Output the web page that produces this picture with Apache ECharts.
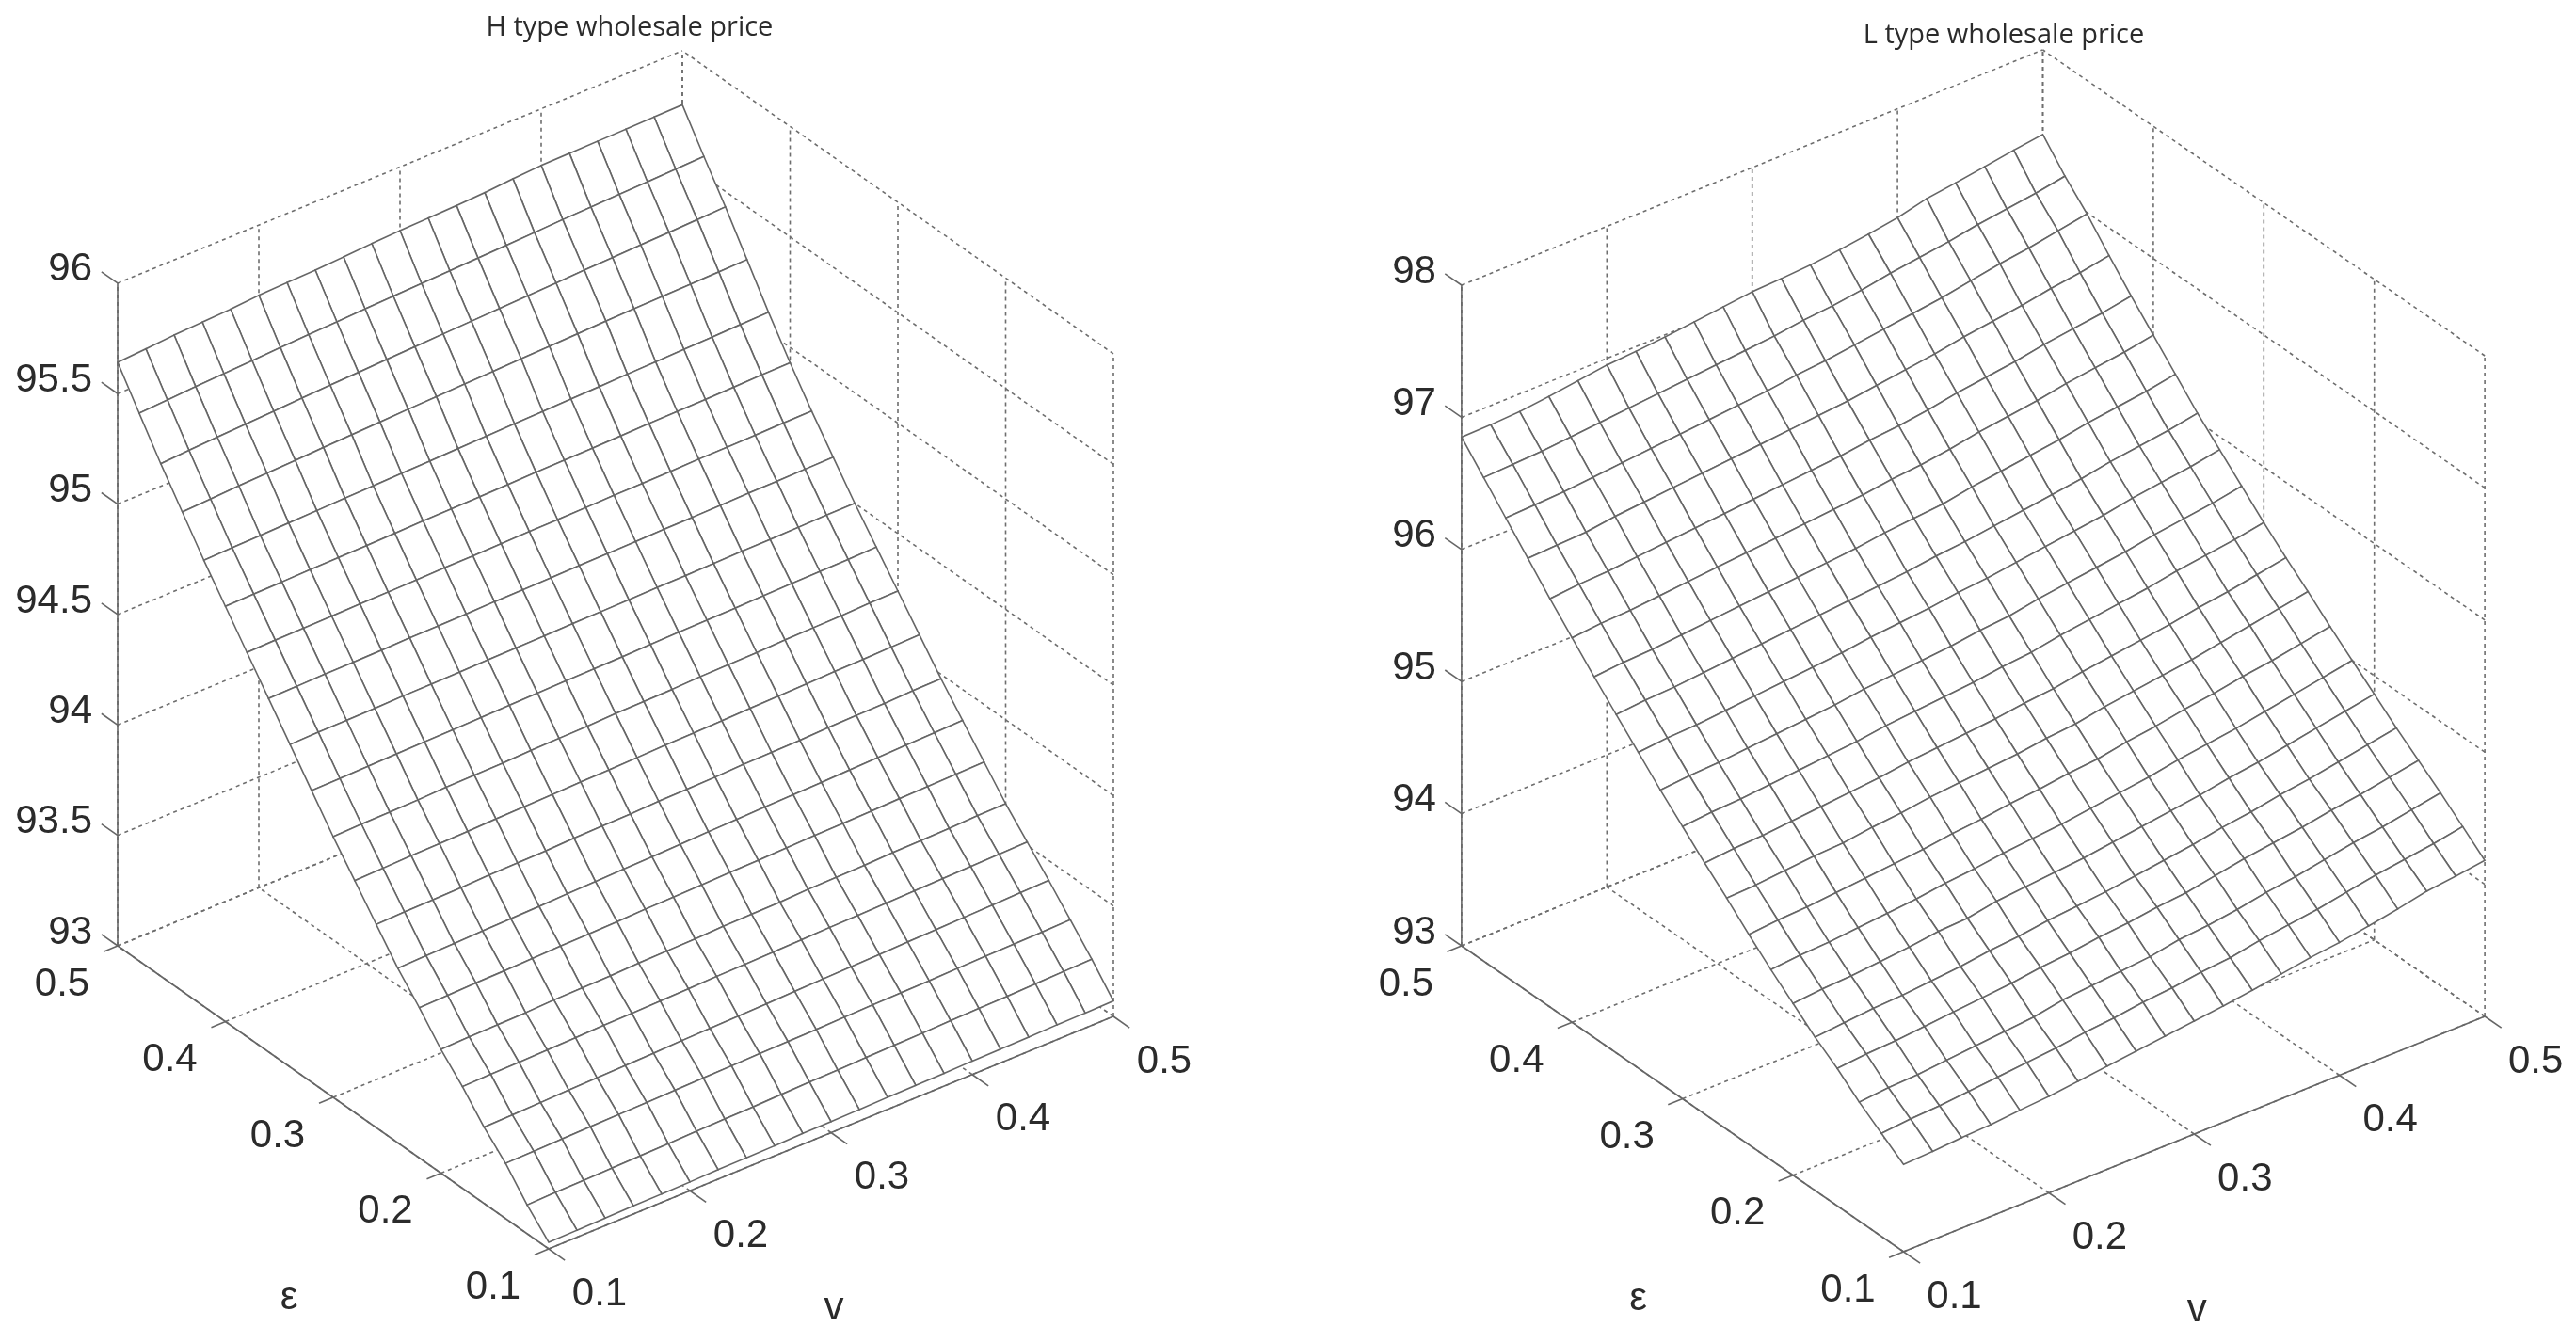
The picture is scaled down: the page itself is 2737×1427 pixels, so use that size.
<!DOCTYPE html>
<html>
<head>
<meta charset="utf-8">
<title>Wholesale price surfaces</title>
<style>
html, body { margin: 0; padding: 0; background: #fff; }
#chart { width: 2737px; height: 1427px; }
</style>
<script src="https://cdn.jsdelivr.net/npm/echarts@6/dist/echarts.min.js"></script>
</head>
<body>
<div id="chart"></div>
<script>
// mesh positions along both floor axes
var gridV = [0.10,0.12,0.14,0.16,0.18,0.20,0.22,0.24,0.26,0.28,0.30,0.32,0.34,0.36,0.38,0.40,0.42,0.44,0.46,0.48,0.50];
var gridEps = [0.10,0.12,0.14,0.16,0.18,0.20,0.22,0.24,0.26,0.28,0.30,0.32,0.34,0.36,0.38,0.40,0.42,0.44,0.46,0.48,0.50];

var vTicks = [0.1,0.2,0.3,0.4,0.5];
var epsTicks = [0.1,0.2,0.3,0.4,0.5];
var zTicksH = [93,93.5,94,94.5,95,95.5,96];
var zTicksL = [93,94,95,96,97,98];

// rows go eps=0.1 -> eps=0.5, columns v=0.1 -> v=0.5
var zH = [
  [93.030,93.032,93.034,93.037,93.038,93.040,93.043,93.044,93.046,93.049,93.050,93.052,93.055,93.056,93.058,93.061,93.062,93.064,93.067,93.068,93.070],
  [93.130,93.134,93.136,93.139,93.142,93.144,93.148,93.151,93.153,93.157,93.160,93.162,93.166,93.169,93.171,93.175,93.178,93.180,93.184,93.187,93.190],
  [93.250,93.252,93.255,93.258,93.260,93.262,93.265,93.268,93.270,93.273,93.275,93.277,93.280,93.283,93.285,93.287,93.290,93.293,93.295,93.297,93.300],
  [93.345,93.348,93.351,93.355,93.358,93.361,93.364,93.368,93.371,93.374,93.377,93.381,93.384,93.387,93.390,93.394,93.397,93.400,93.403,93.407,93.410],
  [93.460,93.463,93.465,93.468,93.471,93.474,93.476,93.479,93.482,93.485,93.487,93.490,93.493,93.496,93.498,93.501,93.504,93.507,93.509,93.512,93.515],
  [93.560,93.564,93.566,93.568,93.573,93.575,93.577,93.582,93.584,93.586,93.591,93.593,93.595,93.600,93.602,93.604,93.609,93.611,93.613,93.618,93.620],
  [93.680,93.683,93.687,93.689,93.692,93.696,93.698,93.701,93.705,93.707,93.710,93.714,93.716,93.719,93.723,93.725,93.728,93.732,93.734,93.737,93.740],
  [93.790,93.794,93.797,93.801,93.804,93.807,93.811,93.814,93.818,93.821,93.825,93.829,93.832,93.836,93.839,93.842,93.846,93.849,93.853,93.856,93.860],
  [93.920,93.924,93.926,93.928,93.933,93.935,93.937,93.942,93.944,93.946,93.951,93.953,93.955,93.960,93.962,93.964,93.969,93.971,93.973,93.978,93.980],
  [94.050,94.053,94.057,94.059,94.062,94.066,94.068,94.071,94.075,94.077,94.080,94.084,94.086,94.089,94.093,94.095,94.098,94.102,94.104,94.107,94.110],
  [94.180,94.184,94.186,94.188,94.193,94.195,94.197,94.202,94.204,94.206,94.211,94.213,94.215,94.220,94.222,94.224,94.229,94.231,94.233,94.238,94.240],
  [94.320,94.322,94.325,94.328,94.330,94.332,94.335,94.338,94.340,94.343,94.345,94.347,94.350,94.353,94.355,94.357,94.360,94.363,94.365,94.367,94.370],
  [94.460,94.463,94.464,94.466,94.469,94.470,94.472,94.475,94.476,94.478,94.481,94.482,94.484,94.487,94.488,94.490,94.493,94.494,94.496,94.499,94.500],
  [94.600,94.602,94.605,94.606,94.608,94.611,94.612,94.614,94.617,94.618,94.620,94.623,94.624,94.626,94.629,94.630,94.632,94.635,94.636,94.638,94.640],
  [94.740,94.743,94.744,94.746,94.749,94.750,94.752,94.755,94.756,94.758,94.761,94.762,94.764,94.767,94.768,94.770,94.773,94.774,94.776,94.779,94.780],
  [94.880,94.883,94.885,94.888,94.890,94.892,94.895,94.898,94.900,94.902,94.905,94.908,94.910,94.912,94.915,94.918,94.920,94.922,94.925,94.928,94.930],
  [95.020,95.024,95.027,95.031,95.034,95.038,95.041,95.045,95.048,95.052,95.055,95.059,95.062,95.066,95.069,95.073,95.076,95.080,95.083,95.087,95.090],
  [95.170,95.176,95.183,95.188,95.193,95.199,95.204,95.209,95.214,95.218,95.223,95.227,95.232,95.236,95.240,95.245,95.248,95.251,95.254,95.257,95.260],
  [95.320,95.328,95.335,95.341,95.347,95.354,95.360,95.365,95.371,95.376,95.381,95.386,95.391,95.396,95.401,95.407,95.411,95.416,95.420,95.425,95.430],
  [95.480,95.487,95.495,95.501,95.507,95.514,95.520,95.525,95.531,95.536,95.541,95.546,95.551,95.556,95.561,95.567,95.571,95.576,95.580,95.585,95.590],
  [95.642,95.650,95.660,95.666,95.672,95.682,95.687,95.691,95.698,95.706,95.712,95.716,95.720,95.726,95.736,95.744,95.746,95.748,95.750,95.753,95.755]
];

var zL = [
  [93.660,93.670,93.685,93.695,93.715,93.730,93.755,93.780,93.805,93.830,93.855,93.880,93.910,93.945,93.980,94.005,94.040,94.080,94.125,94.150,94.180],
  [93.78,93.80,93.81,93.83,93.85,93.87,93.89,93.92,93.94,93.97,93.99,94.02,94.04,94.08,94.11,94.14,94.18,94.22,94.25,94.28,94.32],
  [93.90,93.92,93.93,93.95,93.97,93.99,94.01,94.05,94.07,94.09,94.11,94.15,94.17,94.20,94.24,94.27,94.31,94.35,94.38,94.42,94.46],
  [94.04,94.06,94.07,94.09,94.11,94.13,94.15,94.18,94.20,94.23,94.25,94.28,94.30,94.34,94.38,94.41,94.44,94.48,94.51,94.55,94.59],
  [94.16,94.18,94.20,94.21,94.23,94.25,94.28,94.30,94.33,94.35,94.37,94.40,94.43,94.46,94.50,94.53,94.57,94.60,94.64,94.68,94.72],
  [94.30,94.32,94.33,94.35,94.37,94.40,94.41,94.45,94.47,94.49,94.51,94.54,94.57,94.60,94.63,94.67,94.70,94.74,94.78,94.82,94.86],
  [94.44,94.46,94.47,94.49,94.51,94.53,94.56,94.58,94.61,94.63,94.65,94.68,94.71,94.74,94.78,94.81,94.84,94.88,94.92,94.96,95.00],
  [94.59,94.61,94.62,94.64,94.66,94.68,94.70,94.73,94.75,94.78,94.80,94.83,94.85,94.89,94.92,94.96,94.99,95.03,95.06,95.10,95.14],
  [94.75,94.76,94.78,94.80,94.81,94.84,94.86,94.89,94.91,94.93,94.95,94.98,95.00,95.04,95.07,95.10,95.13,95.17,95.21,95.25,95.29],
  [94.90,94.92,94.93,94.95,94.97,94.99,95.01,95.04,95.06,95.08,95.10,95.13,95.15,95.19,95.22,95.25,95.28,95.32,95.35,95.39,95.43],
  [95.06,95.08,95.09,95.11,95.13,95.15,95.17,95.20,95.22,95.24,95.26,95.29,95.31,95.35,95.38,95.41,95.44,95.48,95.51,95.54,95.58],
  [95.22,95.24,95.25,95.27,95.29,95.31,95.33,95.36,95.38,95.40,95.42,95.45,95.47,95.51,95.54,95.57,95.60,95.64,95.67,95.70,95.74],
  [95.39,95.41,95.42,95.44,95.46,95.48,95.50,95.52,95.55,95.57,95.59,95.62,95.64,95.67,95.70,95.73,95.76,95.80,95.83,95.86,95.90],
  [95.56,95.58,95.59,95.61,95.63,95.65,95.67,95.69,95.71,95.73,95.75,95.78,95.80,95.83,95.86,95.89,95.92,95.96,95.99,96.02,96.06],
  [95.73,95.75,95.76,95.78,95.80,95.82,95.84,95.86,95.88,95.90,95.93,95.95,95.97,96.01,96.04,96.07,96.10,96.14,96.17,96.20,96.24],
  [95.91,95.93,95.94,95.96,95.98,96.00,96.02,96.04,96.06,96.08,96.10,96.13,96.15,96.18,96.22,96.25,96.28,96.32,96.35,96.38,96.42],
  [96.09,96.11,96.12,96.14,96.16,96.18,96.20,96.22,96.24,96.26,96.28,96.31,96.33,96.36,96.40,96.43,96.46,96.50,96.53,96.56,96.60],
  [96.28,96.29,96.30,96.33,96.35,96.37,96.39,96.41,96.43,96.45,96.47,96.49,96.52,96.55,96.58,96.62,96.65,96.68,96.72,96.75,96.79],
  [96.47,96.48,96.49,96.51,96.53,96.55,96.57,96.59,96.61,96.63,96.66,96.68,96.71,96.74,96.77,96.80,96.84,96.88,96.91,96.95,96.99],
  [96.66,96.67,96.68,96.70,96.72,96.74,96.76,96.78,96.80,96.82,96.84,96.87,96.89,96.92,96.96,96.99,97.02,97.06,97.09,97.12,97.16],
  [96.850,96.855,96.865,96.890,96.920,96.950,96.965,96.985,97.010,97.035,97.060,97.070,97.085,97.110,97.140,97.175,97.230,97.260,97.295,97.330,97.360]
];

var W = 2737, H = 1427;
var LINE = '#666';
var FONT = 'Liberation Sans';

// parallel view of each box: front floor corner, screen step per 0.1 of v / eps, px per unit of z
var panelH = { origin: [583, 1327], vStep: [150, -61.75], eStep: [-114.5, -80.5], zUnit: 234.7, zTicks: zTicksH, z: zH };
var panelL = { origin: [2022.5, 1330], vStep: [154.4, -62.5], eStep: [-117.4, -81.25], zUnit: 140.4, zTicks: zTicksL, z: zL };

function project(p, v, e, z) {
    var a = (v - 0.1) * 10, b = (e - 0.1) * 10;
    return [
        p.origin[0] + a * p.vStep[0] + b * p.eStep[0],
        p.origin[1] + a * p.vStep[1] + b * p.eStep[1] - (z - p.zTicks[0]) * p.zUnit
    ];
}

function seg(p, a, b) {
    return project(p, a[0], a[1], a[2]).concat(project(p, b[0], b[1], b[2]));
}

function wallLines(p) {
    var res = [], z0 = p.zTicks[0], z1 = p.zTicks[p.zTicks.length - 1];
    vTicks.forEach(function (v) {
        res.push(seg(p, [v, 0.1, z0], [v, 0.5, z0]));
        res.push(seg(p, [v, 0.5, z0], [v, 0.5, z1]));
    });
    epsTicks.forEach(function (e) {
        res.push(seg(p, [0.1, e, z0], [0.5, e, z0]));
        res.push(seg(p, [0.5, e, z0], [0.5, e, z1]));
    });
    p.zTicks.forEach(function (z) {
        res.push(seg(p, [0.1, 0.5, z], [0.5, 0.5, z]));
        res.push(seg(p, [0.5, 0.1, z], [0.5, 0.5, z]));
    });
    return res;
}

function axisLines(p) {
    var res = [], z0 = p.zTicks[0], z1 = p.zTicks[p.zTicks.length - 1];
    res.push(seg(p, [0.1, 0.1, z0], [0.5, 0.1, z0]));
    res.push(seg(p, [0.1, 0.1, z0], [0.1, 0.5, z0]));
    res.push(seg(p, [0.1, 0.5, z0], [0.1, 0.5, z1]));
    // tick marks run outwards along the neighbouring axis
    vTicks.forEach(function (v) { res.push(seg(p, [v, 0.1, z0], [v, 0.085, z0])); });
    epsTicks.forEach(function (e) { res.push(seg(p, [0.1, e, z0], [0.09, e, z0])); });
    p.zTicks.forEach(function (z) { res.push(seg(p, [0.1, 0.5, z], [0.1, 0.515, z])); });
    return res;
}

// far cells first so nearer cells paint over them
function surfaceCells(p) {
    var res = [];
    for (var j = gridEps.length - 2; j >= 0; j--) {
        for (var i = gridV.length - 2; i >= 0; i--) {
            res.push([].concat(
                project(p, gridV[i], gridEps[j], p.z[j][i]),
                project(p, gridV[i + 1], gridEps[j], p.z[j][i + 1]),
                project(p, gridV[i + 1], gridEps[j + 1], p.z[j + 1][i + 1]),
                project(p, gridV[i], gridEps[j + 1], p.z[j + 1][i])
            ));
        }
    }
    return res;
}

function axisLabels(p) {
    var res = [], z0 = p.zTicks[0];
    p.zTicks.forEach(function (z) {
        var c = project(p, 0.1, 0.5, z);
        res.push({ x: c[0] - 27, y: c[1] - 14, text: String(z), align: 'right' });
    });
    epsTicks.forEach(function (e) {
        var c = project(p, 0.1, e, z0);
        res.push({ x: c[0] - 59, y: c[1] + 41, text: String(e), align: 'center' });
    });
    vTicks.forEach(function (v) {
        var c = project(p, v, 0.1, z0);
        res.push({ x: c[0] + 54, y: c[1] + 48, text: String(v), align: 'center' });
    });
    var ce = project(p, 0.1, 0.3, z0), cv = project(p, 0.3, 0.1, z0);
    res.push({ x: ce[0] - 47, y: ce[1] + 213, text: 'ε', align: 'center' });
    res.push({ x: cv[0] + 3, y: cv[1] + 187, text: 'v', align: 'center' });
    return res;
}

function lineSeries(name, data, lineWidth, dash, color) {
    return {
        name: name,
        type: 'custom',
        silent: true,
        clip: false,
        animation: false,
        encode: { x: [0, 2], y: [1, 3] },
        data: data,
        renderItem: function (params, api) {
            var a = api.coord([api.value(0), api.value(1)]);
            var b = api.coord([api.value(2), api.value(3)]);
            return {
                type: 'line',
                shape: { x1: a[0], y1: a[1], x2: b[0], y2: b[1] },
                style: { stroke: color, lineWidth: lineWidth, lineDash: dash, fill: null }
            };
        }
    };
}

function surfaceSeries(name, data) {
    return {
        name: name,
        type: 'custom',
        silent: true,
        clip: false,
        animation: false,
        encode: { x: [0, 2, 4, 6], y: [1, 3, 5, 7] },
        data: data,
        renderItem: function (params, api) {
            var pts = [];
            for (var k = 0; k < 4; k++) {
                pts.push(api.coord([api.value(k * 2), api.value(k * 2 + 1)]));
            }
            return {
                type: 'polygon',
                shape: { points: pts },
                style: { fill: '#fff', stroke: LINE, lineWidth: 1.6 }
            };
        }
    };
}

function labelSeries(name, labels) {
    return {
        name: name,
        type: 'custom',
        silent: true,
        clip: false,
        animation: false,
        encode: { x: 0, y: 1 },
        data: labels.map(function (l) { return [l.x, l.y]; }),
        renderItem: function (params, api) {
            var l = labels[params.dataIndex];
            var c = api.coord([api.value(0), api.value(1)]);
            return {
                type: 'text',
                x: c[0],
                y: c[1],
                style: {
                    text: l.text,
                    fill: '#2b2b2b',
                    fontSize: 42,
                    fontFamily: FONT,
                    align: l.align,
                    verticalAlign: 'middle'
                }
            };
        }
    };
}

var chart = echarts.init(document.getElementById('chart'), null, { renderer: 'canvas' });
chart.setOption({
    backgroundColor: '#fff',
    animation: false,
    title: [
        { text: 'H type wholesale price', left: 664, top: 10, textAlign: 'center',
          textStyle: { fontFamily: 'Open Sans', fontSize: 29, fontWeight: 'normal', color: '#2b2b2b' } },
        { text: 'L type wholesale price', left: 2124, top: 18, textAlign: 'center',
          textStyle: { fontFamily: 'Open Sans', fontSize: 29, fontWeight: 'normal', color: '#2b2b2b' } }
    ],
    grid: { left: 0, top: 0, width: W, height: H },
    xAxis: { type: 'value', min: 0, max: W, show: false },
    yAxis: { type: 'value', min: 0, max: H, inverse: true, show: false },
    series: [
        lineSeries('H walls', wallLines(panelH), 1.6, [4, 4], '#6e6e6e'),
        lineSeries('L walls', wallLines(panelL), 1.6, [4, 4], '#6e6e6e'),
        lineSeries('H axes', axisLines(panelH), 1.6, null, LINE),
        lineSeries('L axes', axisLines(panelL), 1.6, null, LINE),
        surfaceSeries('H type wholesale price', surfaceCells(panelH)),
        surfaceSeries('L type wholesale price', surfaceCells(panelL)),
        labelSeries('H labels', axisLabels(panelH)),
        labelSeries('L labels', axisLabels(panelL))
    ]
});
</script>
</body>
</html>
